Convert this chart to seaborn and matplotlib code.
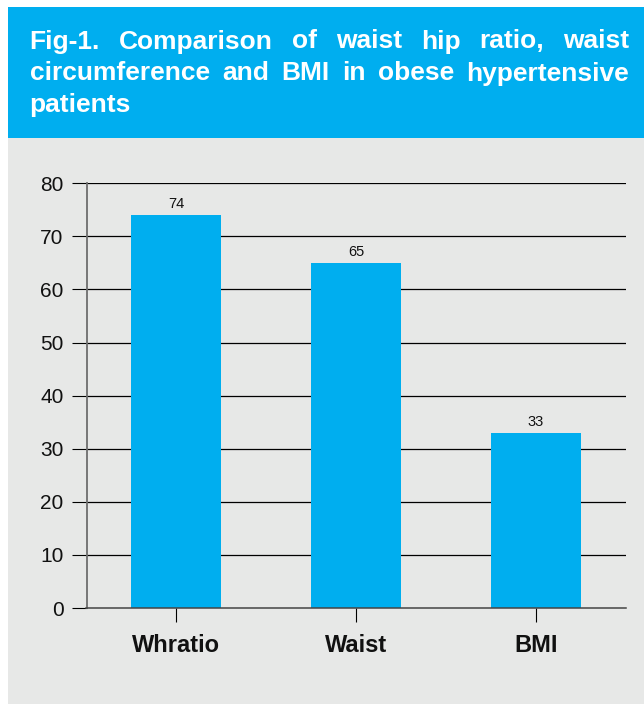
import matplotlib
matplotlib.use("Agg")
import matplotlib.pyplot as plt
from matplotlib.patches import Rectangle
import seaborn as sns

categories = ["Whratio", "Waist", "BMI"]
values = [74, 65, 33]
yticks = [0, 10, 20, 30, 40, 50, 60, 70, 80]
title_lines = ["Fig-1. Comparison of waist hip ratio, waist",
               "circumference and BMI in obese hypertensive",
               "patients"]

BLUE = "#00aeef"
GRAY = "#e7e8e7"

sns.set_theme(style="white")
plt.rcParams['font.family'] = ['Liberation Sans', 'DejaVu Sans']

W, H = 644, 704
fig = plt.figure(figsize=(W / 100, H / 100), dpi=100, facecolor="white")

def fx(px):
    return px / W

def fy(py):
    return 1 - py / H

# background panels
fig.patches.append(Rectangle((fx(8), fy(138)), fx(W - 8), 138 / H - 7 / H,
                             transform=fig.transFigure, facecolor=BLUE, edgecolor="none", zorder=-10))
fig.patches.append(Rectangle((fx(8), 0), fx(W - 8), fy(138),
                             transform=fig.transFigure, facecolor=GRAY, edgecolor="none", zorder=-10))

ax = fig.add_axes([fx(86.5), fy(608), fx(625.5 - 86.5), (608 - 183.3) / H])
ax.set_zorder(5)
ax.set_facecolor(GRAY)

sns.barplot(x=categories, y=values, color=BLUE, saturation=1, width=0.5, ax=ax, zorder=3)
for b in ax.patches:
    b.set_edgecolor("none")
ax.bar_label(ax.containers[0], fontsize=10.5, padding=3, color="#111111")

ax.set_ylim(0, 80)
ax.set_xlim(-0.5, 2.5)
ax.set_yticks(yticks)
ax.set_yticklabels([str(v) for v in yticks], fontsize=15, color="#111111")
ax.set_xticks(range(len(categories)))
ax.set_xticklabels(categories, fontsize=17, fontweight="bold", color="#111111")
for v in yticks[1:]:
    ax.axhline(v, color="black", lw=0.9, zorder=1)

ax.tick_params(axis="y", direction="out", length=11, width=0.8, color="black", pad=5.5, left=True)
ax.tick_params(axis="x", direction="out", length=10, width=0.8, color="black", pad=9, bottom=True)
ax.set_xlabel("")
ax.set_ylabel("")
for s in ["top", "right"]:
    ax.spines[s].set_visible(False)
ax.spines["left"].set_color("#6e6e6e")
ax.spines["left"].set_linewidth(1.3)
ax.spines["bottom"].set_color("#444444")
ax.spines["bottom"].set_linewidth(1.1)
ax.spines["left"].set_zorder(4)
ax.spines["bottom"].set_zorder(4)

# justified title
fig.canvas.draw()
renderer = fig.canvas.get_renderer()
left_px, right_px = 29.6, 629.0
baselines = [48.5, 80.5, 112]
TFS = 19
for i, line in enumerate(title_lines):
    words = line.split()
    y = fy(baselines[i])
    if i == len(title_lines) - 1 or len(words) == 1:
        fig.text(fx(left_px), y, line, fontsize=TFS, fontweight="bold", color="white",
                 va="baseline", ha="left")
        continue
    texts = []
    widths = []
    for w in words:
        t = fig.text(0, y, w, fontsize=TFS, fontweight="bold", color="white",
                     va="baseline", ha="left")
        texts.append(t)
        widths.append(t.get_window_extent(renderer).width)
    gap = (right_px - left_px - sum(widths)) / (len(words) - 1)
    x = left_px
    for t, wd in zip(texts, widths):
        t.set_x(fx(x))
        x += wd + gap

fig.savefig("out.png", dpi=100, facecolor="white")
